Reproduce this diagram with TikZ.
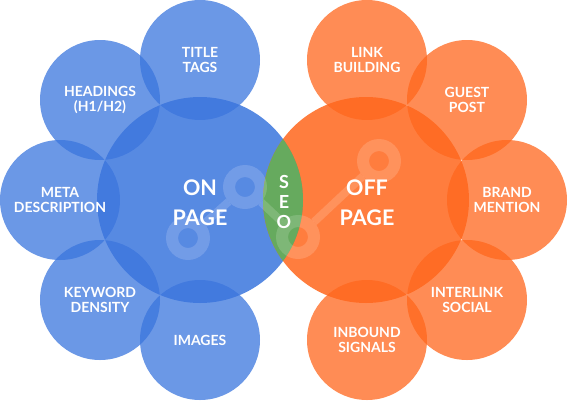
\documentclass[tikz,border=0pt]{standalone}
\usepackage{fontspec}
\setmainfont{Lato}
\definecolor{blueC}{RGB}{58,117,221}
\definecolor{orangeC}{RGB}{255,102,28}
\definecolor{seoGreen}{RGB}{102,170,94}
\begin{document}
\begin{tikzpicture}[x=1pt,y=-1pt,
  smallc/.style={circle, minimum size=120pt, inner sep=0pt, fill opacity=0.75, text opacity=1, text=white,
    font=\bfseries\fontsize{14}{15.5}\selectfont, align=center},
  sblue/.style={smallc, fill=blueC},
  sorange/.style={smallc, fill=orangeC},
  bigc/.style={circle, minimum size=206pt, inner sep=0pt, fill opacity=0.85},
  biglabel/.style={text=white, font=\bfseries\fontsize{21.5}{30}\selectfont, align=center},
  seolabel/.style={text=white, font=\bfseries\fontsize{18}{20}\selectfont, align=center},
  iconring/.style={fill=white, fill opacity=0.16, even odd rule},
  iconline/.style={draw=white, draw opacity=0.16, line width=8pt, shorten >=22pt, shorten <=22pt}
]
\useasboundingbox (0,0) rectangle (568,400);
% big circles
\node[bigc, fill=blueC] (onpage) at (200,200) {};
\node[bigc, fill=orangeC] (offpage) at (366,200) {};
% green lens
\begin{scope}
  \clip (200,200) circle (103);
  \fill[seoGreen] (366,200) circle (103);
\end{scope}
% share icon
\coordinate (i1) at (188,238);
\coordinate (i2) at (245,187);
\coordinate (i3) at (298,237);
\coordinate (i4) at (379,161);
\foreach \c in {i1,i2,i3,i4} {
  \path[iconring] (\c) circle (22) circle (10);
}
\draw[iconline] (i1) -- (i2);
\draw[iconline] (i2) -- (i3);
\draw[iconline] (i3) -- (i4);
% small blue circles
\node[sblue] (title) at (200,60) {TITLE\\TAGS};
\node[sblue] (headings) at (100,100) {HEADINGS\\(H1/H2)};
\node[sblue] (meta) at (60,200) {META\\DESCRIPTION};
\node[sblue] (keyword) at (100,300) {KEYWORD\\DENSITY};
\node[sblue] (images) at (200,340) {IMAGES};
% small orange circles
\node[sorange] (link) at (367,60) {LINK\\BUILDING};
\node[sorange] (guest) at (467,100) {GUEST\\POST};
\node[sorange] (brand) at (507,200) {BRAND\\MENTION};
\node[sorange] (interlink) at (467,300) {INTERLINK\\SOCIAL};
\node[sorange] (inbound) at (367,340) {INBOUND\\SIGNALS};
% labels
\node[biglabel] (onlabel) at (200,203) {ON\\PAGE};
\node[biglabel] (offlabel) at (367,203) {OFF\\PAGE};
\node[seolabel] (seo) at (284,202) {S\\E\\O};
\end{tikzpicture}
\end{document}
